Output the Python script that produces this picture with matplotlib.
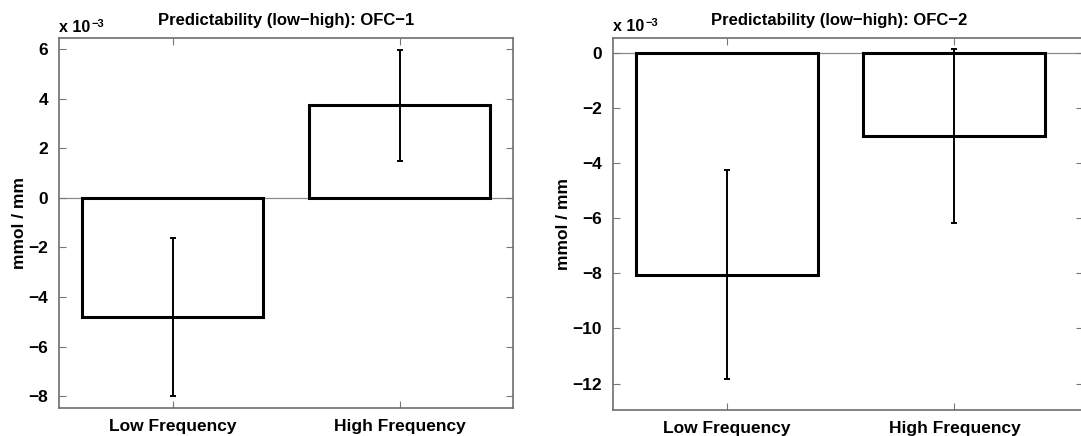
import matplotlib.pyplot as plt

# values in mmol / mm
categories = ['Low Frequency', 'High Frequency']
ofc1_means = [-4.80e-3, 3.72e-3]
ofc1_err = [3.18e-3, 2.23e-3]
ofc2_means = [-8.05e-3, -3.02e-3]
ofc2_err = [3.78e-3, 3.15e-3]
ofc1_yticks = [-8, -6, -4, -2, 0, 2, 4, 6]
ofc2_yticks = [-12, -10, -8, -6, -4, -2, 0]

SCALE = 1e-3
W, H = 1081, 436

plt.rcParams['font.family'] = ['Liberation Sans', 'DejaVu Sans']
plt.rcParams['font.weight'] = 'bold'

fig = plt.figure(figsize=(W / 100, H / 100), dpi=100)


def px_axes(left, top, right, bottom):
    return fig.add_axes([left / W, 1 - bottom / H, (right - left) / W, (bottom - top) / H])


def draw_panel(ax, means, errs, yticks, ylim, xlim, title, title_x):
    x = [1, 2]
    vals = [m / SCALE for m in means]
    e = [v / SCALE for v in errs]
    ax.axhline(0, color='#8a8a8a', lw=0.9, zorder=1)
    ax.bar(x, vals, width=0.8, facecolor='white', edgecolor='black', linewidth=2.2, zorder=2)
    ax.errorbar(x, vals, yerr=e, fmt='none', ecolor='black', elinewidth=1.4,
                capsize=2.5, capthick=1.4, zorder=3)
    ax.set_xlim(*xlim)
    ax.set_ylim(*ylim)
    ax.set_xticks(x)
    ax.set_xticklabels(categories, fontsize=12.5, fontweight='bold')
    ax.set_yticks(yticks)
    ax.set_yticklabels([str(t).replace('-', '\u2212') for t in yticks], fontsize=12.5, fontweight='bold')
    ax.tick_params(direction='in', length=5, width=0.8, color='#777777',
                   top=True, right=True, pad=8)
    for s in ax.spines.values():
        s.set_color('#6e6e6e')
        s.set_linewidth(1.2)
    ax.set_ylabel('mmol / mm', fontsize=12.5, fontweight='bold')
    ax.set_title(title, fontsize=12, fontweight='bold', x=title_x, pad=9)


ax1 = px_axes(59, 38, 513, 408)
draw_panel(ax1, ofc1_means, ofc1_err, ofc1_yticks, (-8.47, 6.44), (0.5, 2.5),
           'Predictability (low\u2212high): OFC\u22121', 0.5)
ax1.yaxis.set_label_coords(-32 / 454, 0.5)

ax2 = px_axes(613, 38, 1083, 410)
draw_panel(ax2, ofc2_means, ofc2_err, ofc2_yticks, (-12.96, 0.53), (0.5, 2.565),
           'Predictability (low\u2212high): OFC\u22122', (839 - 613) / 470)
ax2.yaxis.set_label_coords(-42 / 470, 0.5)

# exponent labels
fig.text(59 / W, 1 - 32 / H, 'x 10', fontsize=11.5, fontweight='bold', ha='left', va='baseline')
fig.text(92 / W, 1 - 27 / H, '\u22123', fontsize=8, fontweight='bold', ha='left', va='baseline')
fig.text(613 / W, 1 - 31 / H, 'x 10', fontsize=11.5, fontweight='bold', ha='left', va='baseline')
fig.text(646 / W, 1 - 26 / H, '\u22123', fontsize=8, fontweight='bold', ha='left', va='baseline')

fig.savefig('out.png', dpi=100)
